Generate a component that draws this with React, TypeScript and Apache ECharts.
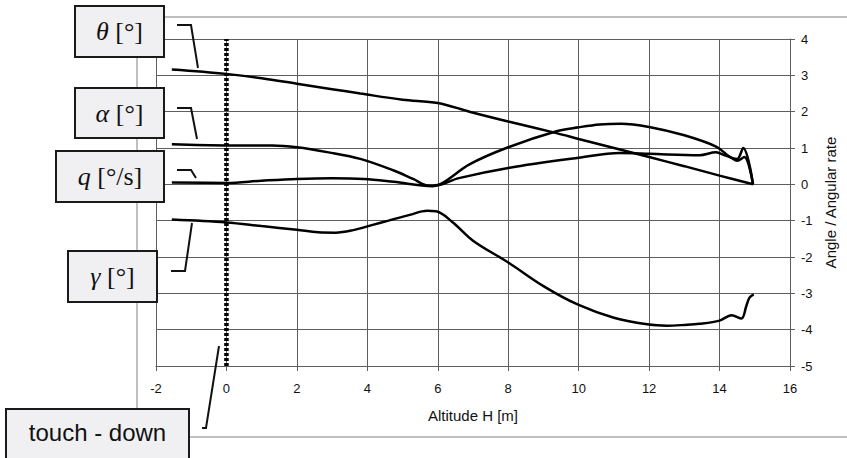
import React, { useEffect, useRef } from "react";
import * as echarts from "echarts";

const thetaX = [-1.55, 0, 1, 2, 3, 3.8, 5, 6, 6.9, 8, 9.37, 10, 11.17, 12, 13, 14, 14.95];
const thetaY = [3.16, 3.04, 2.92, 2.77, 2.62, 2.5, 2.33, 2.24, 2.0, 1.73, 1.41, 1.25, 0.96, 0.75, 0.5, 0.24, 0.0];

const alphaX = [-1.55, 0, 1.3, 2, 2.9, 3.8, 4.75, 5.3, 5.75, 6.1, 6.9, 8, 9.37, 10, 10.6, 11.2, 12, 13, 13.9, 14.3, 14.5, 14.67, 14.95];
const alphaY = [1.1, 1.07, 1.07, 1.02, 0.88, 0.7, 0.38, 0.15, -0.04, 0.02, 0.55, 1.02, 1.46, 1.57, 1.65, 1.67, 1.58, 1.35, 1.04, 0.75, 0.7, 1.0, 0.0];

const qX = [-1.55, 0, 1, 2, 3, 3.9, 4.75, 5.85, 6.6, 8, 10, 11.17, 12, 13.43, 13.9, 14.15, 14.3, 14.5, 14.7, 14.95];
const qY = [0.05, 0.04, 0.1, 0.15, 0.17, 0.15, 0.07, -0.05, 0.17, 0.45, 0.73, 0.86, 0.84, 0.8, 0.88, 0.8, 0.75, 0.65, 0.75, 0.0];

const gammaX = [-1.55, 0, 1, 2, 2.6, 3.1, 3.6, 4.1, 4.6, 5.2, 5.7, 5.95, 6.43, 7, 8, 9, 10, 11, 12, 12.5, 13, 13.43, 14, 14.34, 14.62, 14.76, 14.85, 14.97];
const gammaY = [-0.97, -1.05, -1.15, -1.25, -1.32, -1.33, -1.26, -1.13, -1.0, -0.84, -0.73, -0.74, -1.05, -1.55, -2.15, -2.8, -3.32, -3.67, -3.86, -3.89, -3.87, -3.84, -3.75, -3.6, -3.69, -3.35, -3.12, -3.03];

const touchDownX = [0, 0];
const touchDownY = [-5, 4];

const xName = "Altitude H [m]";
const yName = "Angle / Angular rate";

const zip = (xs: number[], ys: number[]) => xs.map((x, i) => [x, ys[i]]);

const GRID = "#5e5e5e";
const BOX_FILL = "#f0f0f3";
const SERIF = "Liberation Serif";
const SANS = "Liberation Sans";

function box(x: number, y: number, w: number, h: number, text: string, rich: any, font: any, ty?: number) {
  return [
    {
      type: "rect",
      shape: { x, y, width: w, height: h },
      style: { fill: BOX_FILL, stroke: "#1a1a1a", lineWidth: 2 },
      z: 10,
    },
    {
      type: "text",
      x: x + w / 2,
      y: ty !== undefined ? ty : y + h / 2,
      style: {
        text,
        align: "center",
        verticalAlign: "middle",
        fill: "#111",
        ...font,
        rich,
      },
      z: 11,
    },
  ];
}

function leader(points: number[][]) {
  return {
    type: "polyline",
    shape: { points },
    style: { stroke: "#111", lineWidth: 2, fill: "none" },
    z: 9,
  };
}

export default function App() {
  const ref = useRef<HTMLDivElement>(null);
  useEffect(() => {
    if (!ref.current) return;
    const chart = echarts.init(ref.current, undefined, { renderer: "svg" });
    const serifFont = { fontFamily: SERIF, fontSize: 26 };
    const serifRich = {
      i: { fontFamily: SERIF, fontSize: 26, fontStyle: "italic", fill: "#111" },
      n: { fontFamily: SERIF, fontSize: 26, fill: "#111" },
    };
    const lineSeries = (name: string, data: number[][]) => ({
      name,
      type: "line",
      data,
      smooth: 0.35,
      showSymbol: false,
      symbol: "none",
      lineStyle: { color: "#000", width: 2.5 },
      z: 5,
    });
    chart.setOption({
      animation: false,
      textStyle: { fontFamily: SANS },
      grid: { left: 156, right: 57, top: 39, bottom: 92, containLabel: false },
      xAxis: {
        type: "value",
        min: -2,
        max: 16,
        interval: 2,
        position: "bottom",
        axisLine: { show: true, onZero: false, lineStyle: { color: GRID, width: 1 } },
        axisTick: { show: true, length: 5, lineStyle: { color: GRID } },
        axisLabel: { color: "#111", fontSize: 13, margin: 16 },
        splitLine: { show: true, lineStyle: { color: GRID, width: 1 } },
        name: xName,
        nameLocation: "middle",
        nameGap: 42,
        nameTextStyle: { color: "#111", fontSize: 15 },
      },
      yAxis: {
        type: "value",
        min: -5,
        max: 4,
        interval: 1,
        position: "right",
        axisLine: { show: true, onZero: false, lineStyle: { color: GRID, width: 1 } },
        axisTick: { show: true, length: 5, lineStyle: { color: GRID } },
        axisLabel: { color: "#111", fontSize: 13, margin: 11 },
        splitLine: { show: true, lineStyle: { color: GRID, width: 1 } },
        name: yName,
        nameLocation: "middle",
        nameRotate: 90,
        nameGap: 33,
        nameTextStyle: { color: "#111", fontSize: 15 },
      },
      series: [
        {
          name: "touch-down",
          type: "line",
          data: zip(touchDownX, touchDownY),
          showSymbol: false,
          symbol: "none",
          lineStyle: { color: "#000", width: 4.5, type: [3, 2] },
          z: 4,
        },
        lineSeries("theta", zip(thetaX, thetaY)),
        lineSeries("alpha", zip(alphaX, alphaY)),
        lineSeries("q", zip(qX, qY)),
        lineSeries("gamma", zip(gammaX, gammaY)),
      ],
      graphic: {
        elements: [
          {
            type: "rect",
            shape: { x: 137, y: 17, width: 800, height: 420 },
            style: { fill: "none", stroke: "#808080", lineWidth: 1 },
            z: 1,
            silent: true,
          },
          leader([[177, 25], [191, 25], [198, 68]]),
          leader([[177, 108], [191, 108], [197, 139]]),
          leader([[177, 170], [191, 170], [196, 178]]),
          leader([[171, 271], [185, 271], [192, 223]]),
          leader([[202, 428], [206, 428], [219, 346]]),
          ...box(75, 6, 89, 51, "{i|θ}{n| [°]}", serifRich, serifFont),
          ...box(75, 88, 89, 50, "{i|α}{n| [°]}", serifRich, serifFont),
          ...box(56, 151, 108, 51, "{i|q}{n| [°/s]}", serifRich, serifFont),
          ...box(68, 251, 89, 51, "{i|γ}{n| [°]}", serifRich, serifFont),
          ...box(6, 409, 183, 53, "touch - down", {}, { fontFamily: SANS, fontSize: 24 }, 432),
        ],
      },
    });
    return () => chart.dispose();
  }, []);
  return (
    <div
      ref={ref}
      style={{ position: "fixed", left: 0, top: 0, width: 847, height: 458, background: "#fff" }}
    />
  );
}
